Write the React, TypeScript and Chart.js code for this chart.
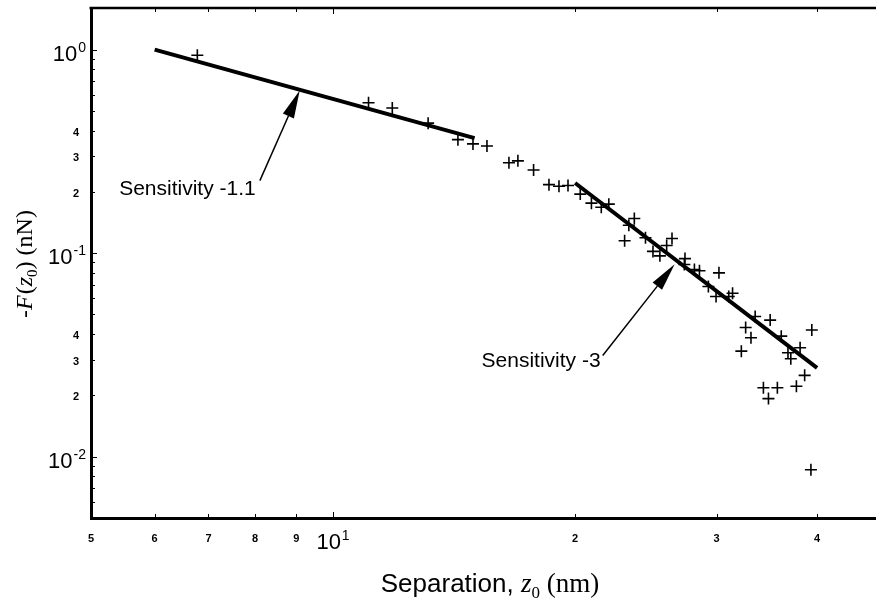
import React, { useEffect, useRef } from "react";
import { Chart, registerables } from "chart.js";

Chart.register(...registerables);

// ---- data ----
const separationNm = [
  6.78, 11.07, 11.85, 13.13, 14.3, 14.93, 15.54, 16.55, 16.98, 17.76,
  18.56, 19.1, 19.6, 20.3, 20.96, 21.56, 22.03, 23.33, 23.7, 23.05,
  24.47, 25.0, 25.5, 26.0, 26.4, 27.4, 27.35, 28.15, 28.56, 30.2,
  29.3, 29.95, 31.4, 31.06, 33.5, 34.97, 32.6, 33.1, 32.2, 39.4,
  36.1, 38.1, 36.8, 37.1, 38.6, 37.7, 34.3, 35.7, 34.8, 39.3,
];
const forceNn = [
  0.937, 0.548, 0.516, 0.435, 0.361, 0.344, 0.336, 0.278, 0.284, 0.256,
  0.217, 0.213, 0.215, 0.195, 0.176, 0.168, 0.174, 0.137, 0.148, 0.115,
  0.119, 0.102, 0.097, 0.109, 0.118, 0.094, 0.088, 0.083, 0.082, 0.08,
  0.0686, 0.0612, 0.0635, 0.0612, 0.0488, 0.0469, 0.0431, 0.0384, 0.033, 0.0419,
  0.0391, 0.0343, 0.0324, 0.0303, 0.0251, 0.0222, 0.0218, 0.0218, 0.0193, 0.00863,
];

const fitShallowX = [6, 15];
const fitShallowY = [1.0, 0.367];
const fitSteepX = [20, 40];
const fitSteepY = [0.221, 0.0273];

const xTickLabelValues = [5, 6, 7, 8, 9, 10, 20, 30, 40];
const yTickLabelValues = [1, 0.4, 0.3, 0.2, 0.1, 0.04, 0.03, 0.02, 0.01];
const xTickMarks = [5, 6, 7, 8, 9, 10, 20, 30, 40, 50];
const yTickMarks = [
  0.005, 0.006, 0.007, 0.008, 0.009,
  0.01, 0.02, 0.03, 0.04, 0.05, 0.06, 0.07, 0.08, 0.09,
  0.1, 0.2, 0.3, 0.4, 0.5, 0.6, 0.7, 0.8, 0.9, 1,
];

const annotationLabels = ["Sensitivity -1.1", "Sensitivity -3"];
const annotationTextAt = [[5.42, 0.207], [15.3, 0.0294]];
const annotationTail = [[8.11, 0.227], [21.65, 0.0314]];
const annotationTip = [[9.09, 0.63], [26.6, 0.0883]];

const SANS = '"Liberation Sans", Arial, Helvetica, sans-serif';
const SERIF = '"Liberation Serif", "Times New Roman", Times, serif';

type Run = { t: string; font: string; dy?: number; gap?: number };

function runsWidth(ctx: CanvasRenderingContext2D, runs: Run[]) {
  let w = 0;
  for (const r of runs) {
    ctx.font = r.font;
    w += ctx.measureText(r.t).width + (r.gap || 0);
  }
  return w;
}
function drawRuns(ctx: CanvasRenderingContext2D, runs: Run[], x: number, y: number) {
  let cx = x;
  for (const r of runs) {
    ctx.font = r.font;
    ctx.fillText(r.t, cx, y + (r.dy || 0));
    cx += ctx.measureText(r.t).width + (r.gap || 0);
  }
}
const isDecade = (v: number) => Math.abs(Math.log10(v) - Math.round(Math.log10(v))) < 1e-9;
const powerRuns = (v: number): Run[] => [
  { t: "10", font: `22px ${SANS}`, gap: 1 },
  { t: String(Math.round(Math.log10(v))), font: `14px ${SANS}`, dy: -9 },
];

const overlayPlugin = {
  id: "overlay",
  afterDraw(chart: any) {
    const { ctx, chartArea: a } = chart;
    const xs = chart.scales.x;
    const ys = chart.scales.y;
    ctx.save();
    ctx.fillStyle = "#000";
    ctx.strokeStyle = "#000";

    // top frame line
    ctx.lineWidth = 2.5;
    ctx.beginPath();
    ctx.moveTo(a.left - 1.5, a.top);
    ctx.lineTo(a.right, a.top);
    ctx.stroke();

    // tick marks (inside)
    ctx.lineWidth = 1;
    for (const v of yTickMarks) {
      const py = Math.round(ys.getPixelForValue(v)) + 0.5;
      const len = isDecade(v) ? 6 : 4;
      ctx.beginPath();
      ctx.moveTo(a.left, py);
      ctx.lineTo(a.left + len, py);
      ctx.stroke();
    }
    for (const v of xTickMarks) {
      const px = Math.round(xs.getPixelForValue(v)) + 0.5;
      const len = isDecade(v) ? 6 : 4;
      ctx.beginPath();
      ctx.moveTo(px, a.bottom);
      ctx.lineTo(px, a.bottom - len);
      ctx.moveTo(px, a.top);
      ctx.lineTo(px, a.top + len);
      ctx.stroke();
    }

    // y tick labels
    for (const v of yTickLabelValues) {
      const py = ys.getPixelForValue(v);
      if (isDecade(v)) {
        const runs = powerRuns(v);
        ctx.textAlign = "left";
        ctx.textBaseline = "alphabetic";
        const w = runsWidth(ctx, runs);
        drawRuns(ctx, runs, a.left - 5 - w, py + 11);
      } else {
        ctx.font = `bold 11px ${SANS}`;
        ctx.textAlign = "right";
        ctx.textBaseline = "middle";
        ctx.fillText(String(Math.round(v / Math.pow(10, Math.floor(Math.log10(v) + 1e-9)))), a.left - 12, py + 2);
      }
    }
    // x tick labels
    for (const v of xTickLabelValues) {
      const px = xs.getPixelForValue(v);
      if (isDecade(v)) {
        const runs = powerRuns(v);
        ctx.textAlign = "left";
        ctx.textBaseline = "alphabetic";
        const w = runsWidth(ctx, runs);
        drawRuns(ctx, runs, px - w / 2, a.bottom + 31);
      } else {
        ctx.font = `bold 11px ${SANS}`;
        ctx.textAlign = "center";
        ctx.textBaseline = "middle";
        ctx.fillText(String(Math.round(v / Math.pow(10, Math.floor(Math.log10(v) + 1e-9)))), px, a.bottom + 21);
      }
    }

    // axis titles
    ctx.textAlign = "left";
    ctx.textBaseline = "alphabetic";
    const xTitle: Run[] = [
      { t: "Separation, ", font: `26px ${SANS}` },
      { t: "z", font: `italic 27px ${SERIF}` },
      { t: "0", font: `17px ${SERIF}`, dy: 6 },
      { t: " (nm)", font: `27px ${SERIF}` },
    ];
    const xw = runsWidth(ctx, xTitle);
    drawRuns(ctx, xTitle, 490 - xw / 2, 592);

    const yTitle: Run[] = [
      { t: "-", font: `24px ${SERIF}` },
      { t: "F", font: `italic 24px ${SERIF}`, gap: 1 },
      { t: "(", font: `24px ${SERIF}` },
      { t: "z", font: `italic 24px ${SERIF}` },
      { t: "0", font: `15px ${SERIF}`, dy: 5 },
      { t: ")", font: `24px ${SERIF}` },
      { t: " (nN)", font: `24px ${SERIF}` },
    ];
    const yw = runsWidth(ctx, yTitle);
    ctx.save();
    ctx.translate(32, 264);
    ctx.rotate(-Math.PI / 2);
    drawRuns(ctx, yTitle, -yw / 2, 0);
    ctx.restore();

    // annotations: text + arrow
    for (let i = 0; i < annotationLabels.length; i++) {
      ctx.font = `21px ${SANS}`;
      ctx.textAlign = "left";
      ctx.textBaseline = "middle";
      const tx = xs.getPixelForValue(annotationTextAt[i][0]);
      const ty = ys.getPixelForValue(annotationTextAt[i][1]);
      ctx.fillText(annotationLabels[i], tx, ty);

      const x0 = xs.getPixelForValue(annotationTail[i][0]);
      const y0 = ys.getPixelForValue(annotationTail[i][1]);
      const x1 = xs.getPixelForValue(annotationTip[i][0]);
      const y1 = ys.getPixelForValue(annotationTip[i][1]);
      const dx = x1 - x0;
      const dy = y1 - y0;
      const L = Math.hypot(dx, dy);
      const ux = dx / L;
      const uy = dy / L;
      const headLen = 28;
      const headHalf = 6;
      const bx = x1 - ux * headLen;
      const by = y1 - uy * headLen;
      ctx.lineWidth = 1.5;
      ctx.beginPath();
      ctx.moveTo(x0, y0);
      ctx.lineTo(bx, by);
      ctx.stroke();
      ctx.beginPath();
      ctx.moveTo(x1, y1);
      ctx.lineTo(bx - uy * headHalf, by + ux * headHalf);
      ctx.lineTo(bx + uy * headHalf, by - ux * headHalf);
      ctx.closePath();
      ctx.fill();
    }
    ctx.restore();
  },
};

export default function App() {
  const canvasRef = useRef<HTMLCanvasElement | null>(null);

  useEffect(() => {
    const canvas = canvasRef.current;
    if (!canvas) return;
    const points = separationNm.map((x, i) => ({ x, y: forceNn[i] }));
    const fit1 = fitShallowX.map((x, i) => ({ x, y: fitShallowY[i] }));
    const fit2 = fitSteepX.map((x, i) => ({ x, y: fitSteepY[i] }));

    const chart = new Chart(canvas, {
      type: "scatter",
      data: {
        datasets: [
          {
            type: "line",
            data: fit1,
            borderColor: "#000",
            borderWidth: 4,
            pointRadius: 0,
            fill: false,
            tension: 0,
          } as any,
          {
            type: "line",
            data: fit2,
            borderColor: "#000",
            borderWidth: 4,
            pointRadius: 0,
            fill: false,
            tension: 0,
          } as any,
          {
            type: "scatter",
            data: points,
            pointStyle: "cross",
            pointRadius: 6,
            borderColor: "#000",
            backgroundColor: "#000",
            borderWidth: 1.6,
          } as any,
        ],
      },
      options: {
        responsive: false,
        animation: false,
        devicePixelRatio: 1,
        layout: { padding: { left: 0, top: 8, right: 15, bottom: 0 } },
        plugins: { legend: { display: false }, tooltip: { enabled: false } },
        scales: {
          x: {
            type: "logarithmic",
            min: 5,
            max: 50,
            position: "bottom",
            grid: { display: true, drawOnChartArea: false, drawTicks: false, color: "rgba(0,0,0,0)" },
            border: { display: true, color: "#000", width: 3 },
            ticks: { display: false },
            afterFit: (s: any) => {
              s.height = 83;
            },
          },
          y: {
            type: "logarithmic",
            min: 0.005,
            max: 1.6,
            position: "left",
            grid: { display: true, drawOnChartArea: false, drawTicks: false, color: "rgba(0,0,0,0)" },
            border: { display: true, color: "#000", width: 3 },
            ticks: { display: false },
            afterFit: (s: any) => {
              s.width = 91;
            },
          },
        },
      } as any,
      plugins: [overlayPlugin],
    });
    return () => chart.destroy();
  }, []);

  return (
    <div
      style={{
        position: "absolute",
        left: 0,
        top: 0,
        width: 876,
        height: 601,
        overflow: "hidden",
        background: "#fff",
      }}
    >
      <canvas ref={canvasRef} width={910} height={601} style={{ display: "block" }} />
    </div>
  );
}
